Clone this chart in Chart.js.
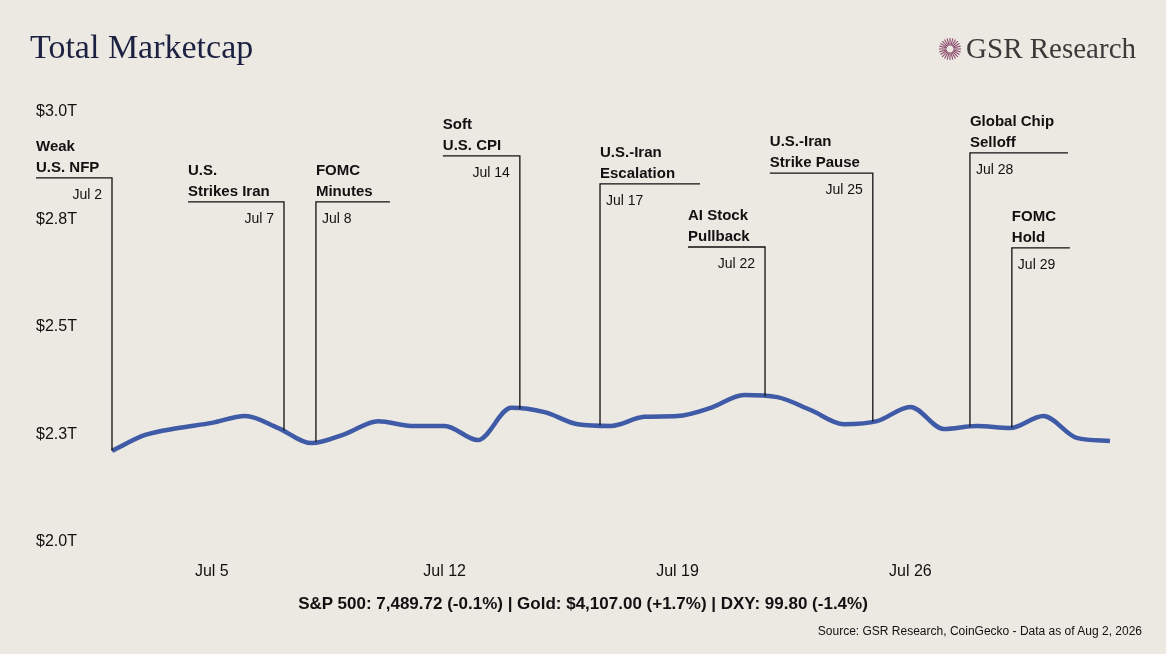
<!DOCTYPE html>
<html>
<head>
<meta charset="utf-8">
<script src="https://cdn.jsdelivr.net/npm/chart.js@4"></script>
<style>
  body { margin: 0; background: #ece8e2; }
  #wrap { position: relative; width: 1166px; height: 654px; background: #ece8e2; overflow: hidden; }
  #title { position: absolute; left: 30px; top: 28px; font-family: "Liberation Serif", serif; font-size: 34px; color: #1c2142; }
  #brand { position: absolute; right: 30px; top: 32px; font-family: "Liberation Serif", serif; font-size: 29px; color: #3a3a3a; display: flex; align-items: center; }
  #brand svg { margin-right: 4px; }
  #footer { position: absolute; left: 0; width: 1166px; top: 594px; text-align: center; font-family: "Liberation Sans", Arial, sans-serif; font-weight: bold; font-size: 17px; color: #111; }
  #source { position: absolute; right: 24px; top: 624px; font-family: "Liberation Sans", Arial, sans-serif; font-size: 12px; color: #111; }
  canvas { position: absolute; left: 0; top: 0; }
</style>
</head>
<body>
<div id="wrap">
  <canvas id="chart" width="1166" height="654"></canvas>
  <div id="title">Total Marketcap</div>
  <div id="brand"><svg width="24" height="24" viewBox="-12 -12 24 24" id="logo"></svg>GSR Research</div>
  <div id="footer">S&amp;P 500: 7,489.72 (-0.1%) | Gold: $4,107.00 (+1.7%) | DXY: 99.80 (-1.4%)</div>
  <div id="source">Source: GSR Research, CoinGecko - Data as of Aug 2, 2026</div>
</div>
<script>
// daily dates Jul 2 .. Aug 1
const dates = ['Jul 2','Jul 3','Jul 4','Jul 5','Jul 6','Jul 7','Jul 8','Jul 9','Jul 10','Jul 11',
  'Jul 12','Jul 13','Jul 14','Jul 15','Jul 16','Jul 17','Jul 18','Jul 19','Jul 20','Jul 21',
  'Jul 22','Jul 23','Jul 24','Jul 25','Jul 26','Jul 27','Jul 28','Jul 29','Jul 30','Jul 31','Aug 1'];
// total market cap, trillions USD
const marketcap = [2.212,2.249,2.265,2.277,2.293,2.265,2.230,2.251,2.281,2.270,
  2.270,2.237,2.312,2.302,2.274,2.270,2.291,2.293,2.312,2.342,
  2.337,2.307,2.274,2.281,2.314,2.263,2.270,2.265,2.293,2.242,2.235];
const xTickLabels = ['Jul 5','Jul 12','Jul 19','Jul 26'];
const yTicks = [2.0, 2.25, 2.5, 2.75, 3.0];

// events: date label, position (days after Jul 2), title lines, top of leader line (T), label side
const events = [
  { date: 'Jul 2',  at: 0.0,   lines: ['Weak', 'U.S. NFP'],          top: 2.847, side: 'left',  len: 76 },
  { date: 'Jul 7',  at: 5.17,  lines: ['U.S.', 'Strikes Iran'],      top: 2.791, side: 'left',  len: 96 },
  { date: 'Jul 8',  at: 6.13,  lines: ['FOMC', 'Minutes'],           top: 2.791, side: 'right', len: 74 },
  { date: 'Jul 14', at: 12.26, lines: ['Soft', 'U.S. CPI'],          top: 2.898, side: 'left',  len: 77 },
  { date: 'Jul 17', at: 14.67, lines: ['U.S.-Iran', 'Escalation'],   top: 2.833, side: 'right', len: 100 },
  { date: 'Jul 22', at: 19.63, lines: ['AI Stock', 'Pullback'],      top: 2.686, side: 'left',  len: 77 },
  { date: 'Jul 25', at: 22.87, lines: ['U.S.-Iran', 'Strike Pause'], top: 2.858, side: 'left',  len: 103 },
  { date: 'Jul 28', at: 25.79, lines: ['Global Chip', 'Selloff'],    top: 2.905, side: 'right', len: 98 },
  { date: 'Jul 29', at: 27.05, lines: ['FOMC', 'Hold'],              top: 2.684, side: 'right', len: 58 }
];

(function () {
  const svg = document.getElementById('logo');
  let s = '';
  for (let i = 0; i < 24; i++) {
    const a = i * Math.PI / 12;
    s += `<line x1="${(3.5*Math.cos(a)).toFixed(2)}" y1="${(3.5*Math.sin(a)).toFixed(2)}" x2="${(11*Math.cos(a)).toFixed(2)}" y2="${(11*Math.sin(a)).toFixed(2)}" stroke="#8c4d6e" stroke-width="1.1"/>`;
  }
  svg.innerHTML = s;
})();

const eventPlugin = {
  id: 'events',
  afterDatasetsDraw(chart) {
    const ctx = chart.ctx, x = chart.scales.x, y = chart.scales.y;
    const pts = chart.getDatasetMeta(0).data;
    ctx.save();
    ctx.strokeStyle = '#111';
    ctx.lineWidth = 1.3;
    ctx.fillStyle = '#111';
    events.forEach(e => {
      const px = x.getPixelForValue(e.at);
      const i0 = Math.min(Math.floor(e.at), pts.length - 2), f = e.at - i0;
      const py = pts[i0].y + (pts[i0 + 1].y - pts[i0].y) * f;
      const ty = y.getPixelForValue(e.top);
      const hx = e.side === 'left' ? px - e.len : px + e.len;
      ctx.beginPath();
      ctx.moveTo(px, py);
      ctx.lineTo(px, ty);
      ctx.lineTo(hx, ty);
      ctx.stroke();
      const left = Math.min(px, hx);
      ctx.font = 'bold 15px "Liberation Sans", Arial, sans-serif';
      ctx.textAlign = 'left';
      ctx.fillText(e.lines[0], left, ty - 27);
      ctx.fillText(e.lines[1], left, ty - 6);
      ctx.font = '14px "Liberation Sans", Arial, sans-serif';
      if (e.side === 'left') {
        ctx.textAlign = 'right';
        ctx.fillText(e.date, px - 10, ty + 21);
      } else {
        ctx.textAlign = 'left';
        ctx.fillText(e.date, px + 6, ty + 21);
      }
    });
    ctx.restore();
  }
};

new Chart(document.getElementById('chart'), {
  type: 'line',
  data: {
    labels: dates,
    datasets: [{
      data: marketcap,
      borderColor: '#3f5aa6',
      borderWidth: 4.5,
      pointRadius: 0,
      tension: 0.4,
      cubicInterpolationMode: 'monotone',
      fill: false
    }]
  },
  options: {
    responsive: false,
    animation: false,
    layout: { padding: { left: 36, right: 56, top: 112, bottom: 64 } },
    plugins: { legend: { display: false }, tooltip: { enabled: false } },
    scales: {
      x: {
        grid: { display: false },
        border: { display: false },
        afterFit: s => { s.height = 48; },
        ticks: {
          autoSkip: false,
          maxRotation: 0,
          padding: 12,
          color: '#111',
          font: { size: 16, family: '"Liberation Sans", Arial, sans-serif' },
          callback: function (v) {
            const l = this.getLabelForValue(v);
            return xTickLabels.includes(l) ? l : '';
          }
        }
      },
      y: {
        min: 2.0,
        max: 3.0,
        grid: { display: false },
        border: { display: false },
        afterFit: s => { s.width = 76; },
        afterBuildTicks: s => { s.ticks = yTicks.map(v => ({ value: v })); },
        ticks: {
          crossAlign: 'far',
          color: '#111',
          font: { size: 16, family: '"Liberation Sans", Arial, sans-serif' },
          callback: v => '$' + v.toFixed(1) + 'T'
        }
      }
    }
  },
  plugins: [eventPlugin]
});
</script>
</body>
</html>
